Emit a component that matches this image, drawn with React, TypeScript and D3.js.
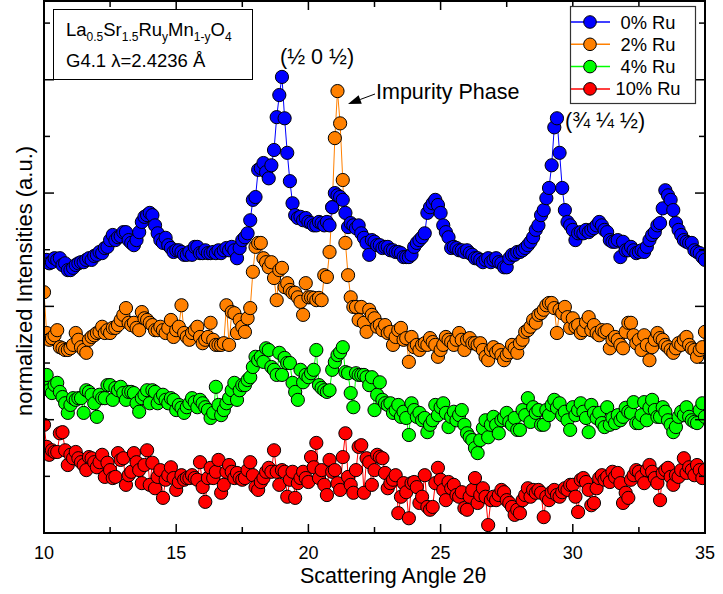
import React from 'react';
import * as d3 from 'd3';

// Scan grid (degrees 2θ)
const ANGLE_START = 10;
const ANGLE_STEP = 0.1;

// Normalized intensities (offset per sample), one value per step from 10.0 to 35.0
const ru0 = [
  4.82, 4.82, 4.76, 4.78, 4.85, 4.82, 4.85, 4.73, 4.76, 4.64,
  4.64, 4.68, 4.73, 4.76, 4.78, 4.78, 4.82, 4.85, 4.82, 4.89,
  4.91, 4.96, 4.94, 5.03, 5.05, 5.17, 5.26, 5.17, 5.22, 5.24,
  5.31, 5.31, 5.17, 5.12, 5.08, 5.17, 5.31, 5.49, 5.58, 5.61,
  5.65, 5.61, 5.43, 5.29, 5.17, 5.12, 5.21, 5.08, 5.03, 4.96,
  4.99, 4.99, 4.96, 4.91, 4.91, 4.96, 4.91, 5.05, 5.05, 4.94,
  4.94, 4.99, 4.94, 4.94, 4.96, 4.94, 4.99, 4.94, 4.99, 5.03,
  4.99, 5.05, 4.99, 4.85, 5.03, 5.17, 5.22, 5.29, 5.52, 5.88,
  5.93, 6.41, 6.44, 6.53, 6.37, 6.26, 6.49, 6.76, 7.34, 7.73,
  8.05, 7.32, 6.71, 6.21, 5.82, 5.61, 5.56, 5.58, 5.52, 5.56,
  5.49, 5.47, 5.43, 5.43, 5.49, 5.47, 5.43, 5.49, 5.43, 5.75,
  6.0, 5.96, 5.93, 5.88, 5.65, 5.4, 5.47, 5.43, 5.38, 5.43,
  5.29, 5.21, 5.12, 4.91, 5.17, 5.14, 5.08, 5.08, 5.03, 5.05,
  5.05, 4.99, 4.99, 4.96, 4.96, 4.94, 4.87, 4.87, 4.87, 4.91,
  5.05, 5.12, 5.17, 5.22, 5.29, 5.65, 5.75, 5.82, 5.88, 5.79,
  5.65, 5.43, 5.31, 5.22, 5.03, 5.05, 5.03, 4.99, 4.99, 4.96,
  4.99, 4.94, 4.91, 4.85, 4.85, 4.82, 4.78, 4.82, 4.85, 4.78,
  4.82, 4.85, 4.78, 4.76, 4.69, 4.69, 4.85, 4.91, 4.91, 4.96,
  4.96, 4.99, 5.03, 5.08, 5.14, 5.22, 5.35, 5.43, 5.61, 5.7,
  5.91, 6.09, 6.49, 7.16, 7.32, 6.71, 6.09, 5.7, 5.49, 5.43,
  5.35, 5.17, 5.29, 5.31, 5.29, 5.35, 5.31, 5.35, 5.38, 5.43,
  5.49, 5.43, 5.35, 5.31, 5.17, 5.14, 5.14, 5.17, 4.87, 5.14,
  4.99, 4.99, 5.05, 4.99, 4.94, 4.96, 4.99, 4.96, 5.05, 5.17,
  5.26, 5.31, 5.43, 5.47, 5.73, 6.05, 5.96, 5.88, 5.7, 5.47,
  5.35, 5.26, 5.17, 5.14, 5.12, 5.12, 4.99, 4.96, 4.94, 4.87,
  4.82,
];

const ru2 = [
  4.25, 3.53, 3.41, 3.44, 3.49, 3.58, 3.28, 3.26, 3.23, 3.23,
  3.26, 3.32, 3.53, 3.41, 3.28, 3.23, 3.18, 3.41, 3.46, 3.49,
  3.53, 3.55, 3.64, 3.53, 3.58, 3.53, 3.62, 3.62, 3.67, 3.76,
  3.85, 3.97, 3.71, 3.67, 3.71, 3.62, 3.58, 3.9, 3.79, 3.76,
  3.71, 3.67, 3.58, 3.58, 3.64, 3.58, 3.53, 3.62, 3.76, 3.46,
  3.58, 3.64, 4.02, 3.53, 3.46, 3.41, 3.53, 3.58, 3.64, 3.46,
  3.35, 3.41, 3.46, 3.71, 3.41, 3.32, 3.32, 3.32, 3.35, 4.02,
  3.32, 3.9, 3.88, 3.53, 3.76, 3.64, 3.55, 3.79, 3.97, 4.61,
  5.05, 5.12, 5.12, 4.85, 4.78, 4.69, 4.78, 4.5, 4.11, 4.64,
  4.68, 4.34, 4.41, 4.29, 4.24, 4.24, 4.16, 4.08, 3.85, 4.41,
  4.16, 4.16, 4.15, 4.11, 4.15, 4.11, 4.55, 4.52, 4.96, 5.75,
  6.97, 7.8, 7.23, 6.23, 5.12, 4.55, 4.16, 3.99, 3.99, 3.76,
  3.99, 3.71, 3.55, 3.94, 3.85, 3.79, 3.64, 3.67, 3.58, 3.67,
  3.53, 3.55, 3.32, 3.46, 3.58, 3.62, 3.41, 3.44, 3.02, 3.46,
  3.28, 3.32, 3.23, 3.32, 3.35, 3.32, 3.44, 3.37, 3.32, 3.11,
  3.23, 3.32, 3.46, 3.41, 3.37, 3.32, 3.41, 3.53, 3.41, 3.23,
  3.41, 3.44, 3.35, 3.35, 3.32, 3.35, 3.23, 3.11, 3.05, 3.23,
  3.28, 3.19, 3.23, 3.14, 3.05, 3.14, 3.19, 3.32, 3.26, 3.18,
  3.35, 3.41, 3.55, 3.58, 3.64, 3.76, 3.71, 3.85, 3.88, 3.94,
  4.02, 4.06, 4.06, 3.97, 3.53, 3.94, 3.88, 3.99, 3.81, 3.62,
  3.79, 3.64, 3.67, 3.53, 3.58, 3.72, 3.81, 3.58, 3.67, 3.53,
  3.49, 3.58, 3.55, 3.58, 3.26, 3.41, 3.46, 3.41, 3.32, 3.26,
  3.55, 3.71, 3.71, 3.49, 3.35, 3.41, 3.23, 3.49, 3.32, 3.05,
  3.28, 3.41, 3.53, 3.44, 3.41, 3.32, 3.28, 3.23, 3.18, 3.26,
  3.35, 3.32, 3.41, 3.46, 3.32, 3.26, 3.23, 3.11, 3.23, 3.28,
  3.55,
];

const ru4 = [
  2.58, 2.79, 2.52, 2.47, 2.61, 2.65, 2.49, 2.4, 2.29, 2.12,
  2.26, 2.38, 2.35, 2.38, 2.38, 2.12, 2.52, 2.49, 2.44, 2.29,
  2.05, 2.44, 2.38, 2.38, 2.61, 2.61, 2.35, 2.56, 2.52, 2.58,
  2.47, 2.35, 2.49, 2.49, 2.47, 2.29, 2.14, 2.38, 2.44, 2.52,
  2.29, 2.52, 2.49, 2.29, 2.38, 2.44, 2.35, 2.29, 2.38, 2.35,
  2.17, 2.26, 2.21, 2.12, 2.22, 2.29, 2.38, 2.31, 2.22, 2.35,
  2.29, 2.22, 2.17, 2.03, 2.12, 2.58, 2.26, 2.08, 2.17, 2.29,
  2.38, 2.52, 2.65, 2.35, 2.52, 2.61, 2.61, 2.7, 2.75, 2.93,
  3.11, 3.05, 3.11, 3.02, 3.26, 3.23, 2.93, 2.88, 2.79, 3.18,
  2.79, 3.09, 3.0, 3.0, 2.65, 2.49, 2.35, 2.88, 2.66, 2.79,
  2.75, 2.82, 2.88, 3.23, 2.61, 2.56, 2.52, 2.49, 2.52, 2.88,
  3.02, 3.14, 3.19, 3.28, 2.84, 2.82, 2.47, 2.22, 2.82, 2.79,
  2.79, 2.79, 2.75, 2.61, 2.75, 2.17, 2.44, 2.66, 2.35, 2.29,
  2.26, 2.29, 2.12, 2.17, 2.26, 2.05, 2.14, 2.03, 1.73, 2.29,
  2.17, 2.05, 2.12, 1.99, 2.03, 1.78, 1.91, 1.99, 2.26, 2.08,
  2.22, 2.29, 2.12, 1.87, 2.05, 2.14, 1.99, 2.08, 2.17, 1.91,
  1.76, 1.69, 1.64, 1.5, 1.41, 1.64, 1.85, 1.99, 1.69, 1.91,
  2.05, 1.91, 1.76, 1.99, 2.03, 2.12, 1.96, 1.91, 2.03, 1.82,
  1.82, 2.17, 2.08, 2.38, 1.96, 2.22, 2.12, 2.17, 1.91, 1.91,
  2.17, 2.08, 2.26, 2.35, 2.21, 2.29, 2.08, 2.14, 1.99, 1.82,
  2.22, 2.08, 2.17, 2.29, 2.14, 2.03, 1.78, 2.26, 2.12, 2.03,
  2.12, 1.94, 1.87, 2.22, 1.91, 2.03, 1.94, 2.08, 1.99, 2.05,
  2.21, 2.14, 2.12, 2.31, 1.94, 1.94, 2.08, 2.31, 1.99, 2.21,
  2.35, 2.17, 2.05, 2.05, 2.22, 2.14, 1.99, 1.91, 1.78, 1.87,
  2.05, 2.14, 2.08, 2.22, 2.05, 1.99, 1.96, 1.94, 2.17, 2.29,
  2.05,
];

const ru10 = [
  1.91, 1.52, 1.38, 1.46, 1.43, 1.43, 1.76, 1.78, 1.46, 1.2,
  1.38, 1.32, 1.43, 1.32, 1.25, 1.2, 1.11, 1.34, 1.32, 1.25,
  1.16, 1.25, 1.38, 0.99, 1.24, 1.11, 0.97, 0.99, 1.41, 1.29,
  1.32, 0.85, 1.02, 1.08, 1.41, 1.25, 1.11, 0.88, 1.2, 1.46,
  0.85, 1.24, 0.79, 0.99, 1.11, 0.62, 0.94, 1.02, 1.16, 0.97,
  0.76, 0.9, 1.02, 0.94, 0.97, 0.97, 1.02, 0.97, 0.94, 1.25,
  0.81, 0.55, 0.97, 1.15, 0.97, 1.08, 1.29, 0.71, 0.85, 1.08,
  1.2, 1.08, 0.97, 1.06, 0.97, 0.94, 0.97, 1.11, 1.25, 1.02,
  0.81, 0.76, 0.9, 0.97, 1.08, 1.15, 1.08, 1.46, 1.08, 0.85,
  1.11, 1.08, 0.64, 0.94, 1.08, 0.62, 0.88, 0.97, 1.08, 0.97,
  0.9, 1.34, 1.16, 1.59, 0.97, 1.11, 0.85, 0.67, 1.29, 1.08,
  1.11, 0.88, 0.76, 1.34, 1.76, 0.99, 0.85, 0.71, 1.11, 1.52,
  1.55, 0.71, 1.32, 1.25, 0.85, 1.11, 1.38, 1.34, 1.32, 1.06,
  0.79, 0.88, 0.94, 1.02, 0.35, 0.64, 0.88, 0.72, 0.26, 0.88,
  0.9, 0.81, 0.53, 0.64, 1.02, 0.46, 0.41, 0.46, 0.88, 1.15,
  0.94, 0.76, 0.58, 0.9, 0.79, 0.85, 0.67, 0.64, 0.72, 0.44,
  0.41, 0.64, 0.76, 0.97, 0.53, 0.67, 0.79, 0.64, 0.14, 0.58,
  0.64, 0.58, 0.67, 0.76, 0.72, 0.58, 0.53, 0.46, 0.32, 0.41,
  0.35, 0.58, 0.67, 0.79, 0.64, 0.76, 0.71, 0.76, 0.71, 0.28,
  0.64, 0.58, 0.72, 0.76, 0.67, 0.64, 0.72, 0.79, 0.76, 0.85,
  0.85, 0.64, 0.37, 0.94, 0.97, 0.9, 0.76, 0.49, 0.53, 0.79,
  0.97, 1.02, 0.94, 0.99, 0.9, 1.08, 0.99, 1.06, 0.88, 0.53,
  0.71, 0.62, 0.94, 1.02, 1.11, 1.08, 0.99, 0.88, 1.11, 1.2,
  1.08, 0.97, 0.88, 0.58, 1.06, 1.11, 1.15, 0.99, 0.85, 1.02,
  0.99, 1.11, 1.32, 1.06, 1.16, 1.11, 1.02, 1.2, 1.11, 0.97,
  1.11,
];

const seriesNames = ['0% Ru', '2% Ru', '4% Ru', '10% Ru'];
const seriesColors = ['#0000ff', '#ff8000', '#00ff00', '#ff0000'];
const seriesValues = [ru0, ru2, ru4, ru10];

const xMajorTicks = [10, 15, 20, 25, 30, 35];
const xMinorTicks = [12.5, 17.5, 22.5, 27.5, 32.5];
const yTicks = [1, 2, 3, 4, 5, 6, 7, 8, 9];

const FONT = "'Liberation Sans', Arial, Helvetica, sans-serif";

export default function App() {
  const W = 723, H = 594;
  const L = 44, R = 705, T = 1, B = 533;
  const x = d3.scaleLinear().domain([10, 35]).range([L, R]);
  const y = d3.scaleLinear().domain([0, 9.39]).range([B, T]);

  const series = seriesValues.map((vals, i) => ({
    name: seriesNames[i],
    color: seriesColors[i],
    pts: vals.map((v, j) => [ANGLE_START + j * ANGLE_STEP, v] as [number, number]),
  }));
  const line = d3.line<[number, number]>().x(d => x(d[0])).y(d => y(d[1]));

  // arrow for impurity annotation
  const arrowFrom = [375, 94];
  const arrowTip = [348, 104];
  const ang = Math.atan2(arrowTip[1] - arrowFrom[1], arrowTip[0] - arrowFrom[0]);
  const ah = 13, aw = 4.5;
  const bx = arrowTip[0] - ah * Math.cos(ang), by = arrowTip[1] - ah * Math.sin(ang);
  const head = `M${arrowTip[0]},${arrowTip[1]} L${bx + aw * Math.sin(ang)},${by - aw * Math.cos(ang)} L${bx - aw * Math.sin(ang)},${by + aw * Math.cos(ang)} Z`;

  const drawOrder = [3, 2, 1, 0];
  const MR = 6.6;

  return (
    <svg width={W} height={H} style={{ position: 'absolute', left: 0, top: 0, background: '#fff' }} fontFamily={FONT}>
      <defs>
        <clipPath id="plotClip">
          <rect x={L} y={T} width={R - L} height={B - T} />
        </clipPath>
      </defs>
      <rect x={0} y={0} width={W} height={H} fill="#fff" />
      <g clipPath="url(#plotClip)">
        {drawOrder.map(i => {
          const s = series[i];
          return (
            <g key={s.name}>
              <path d={line(s.pts) || ''} fill="none" stroke={s.color} strokeWidth={1} />
              {s.pts.map((p, j) => (
                <circle key={j} cx={x(p[0])} cy={y(p[1])} r={MR} fill={s.color} stroke="#000" strokeWidth={1} />
              ))}
            </g>
          );
        })}
      </g>

      {/* frame */}
      <rect x={L} y={T} width={R - L} height={B - T} fill="none" stroke="#000" strokeWidth={2} />

      {/* x ticks */}
      {xMajorTicks.map(t => (
        <g key={'xm' + t}>
          <line x1={x(t)} x2={x(t)} y1={B} y2={B - 9} stroke="#000" strokeWidth={1.5} />
          <line x1={x(t)} x2={x(t)} y1={T} y2={T + 9} stroke="#000" strokeWidth={1.5} />
          <text x={x(t)} y={559} textAnchor="middle" fontSize={18}>{t}</text>
        </g>
      ))}
      {xMinorTicks.map(t => (
        <g key={'xn' + t}>
          <line x1={x(t)} x2={x(t)} y1={B} y2={B - 6} stroke="#000" strokeWidth={1.5} />
          <line x1={x(t)} x2={x(t)} y1={T} y2={T + 6} stroke="#000" strokeWidth={1.5} />
        </g>
      ))}
      {/* y ticks */}
      {yTicks.map(t => {
        const len = t % 2 === 0 ? 10 : 6;
        return (
          <g key={'y' + t}>
            <line x1={L} x2={L + len} y1={y(t)} y2={y(t)} stroke="#000" strokeWidth={1.5} />
            <line x1={R} x2={R - len} y1={y(t)} y2={y(t)} stroke="#000" strokeWidth={1.5} />
          </g>
        );
      })}

      {/* axis titles */}
      <text x={300} y={583} fontSize={21.5}>Scattering Angle 2θ</text>
      <text transform="translate(32,281) rotate(-90)" textAnchor="middle" fontSize={22}>normalized Intensities (a.u.)</text>

      {/* info box */}
      <rect x={53.5} y={9.5} width={199} height={70} fill="#fff" stroke="#000" strokeWidth={1} />
      <text x={66} y={36} fontSize={18.5}>
        <tspan>La</tspan>
        <tspan fontSize={12} dy={5}>0.5</tspan>
        <tspan dy={-5}>Sr</tspan>
        <tspan fontSize={12} dy={5}>1.5</tspan>
        <tspan dy={-5}>Ru</tspan>
        <tspan fontSize={12} dy={5}>y</tspan>
        <tspan dy={-5}>Mn</tspan>
        <tspan fontSize={12} dy={5}>1-y</tspan>
        <tspan dy={-5}>O</tspan>
        <tspan fontSize={12} dy={5}>4</tspan>
      </text>
      <text x={66} y={67} fontSize={18.5}>G4.1 λ=2.4236 Å</text>

      {/* annotations */}
      <text x={280} y={64} fontSize={21.5}>(½ 0 ½)</text>
      <text x={565} y={128} fontSize={21.5}>(¾ ¼ ½)</text>
      <text x={376} y={99} fontSize={21.5}>Impurity Phase</text>
      <line x1={arrowFrom[0]} y1={arrowFrom[1]} x2={bx} y2={by} stroke="#000" strokeWidth={1} />
      <path d={head} fill="#000" />

      {/* legend */}
      <rect x={570.5} y={6.5} width={125} height={97} fill="#fff" stroke="#333" strokeWidth={1.2} />
      {series.map((s, i) => {
        const cy = 22 + i * 22.3;
        return (
          <g key={'lg' + i}>
            <line x1={571} x2={610} y1={cy} y2={cy} stroke={s.color} strokeWidth={1.5} />
            <circle cx={590} cy={cy} r={6.3} fill={s.color} stroke="#000" strokeWidth={1} />
            <text x={648} y={cy + 6.5} textAnchor="middle" fontSize={18.3}>{s.name}</text>
          </g>
        );
      })}
    </svg>
  );
}
